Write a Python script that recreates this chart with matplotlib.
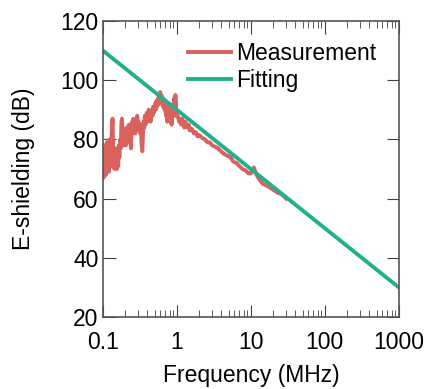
import matplotlib
matplotlib.use('Agg')
from matplotlib import pyplot as plt
from matplotlib.ticker import LogLocator, NullFormatter, FixedLocator

plt.rcParams['font.family'] = ['Liberation Sans', 'DejaVu Sans']

# measured E-shielding vs frequency
meas_freq = [0.100, 0.102, 0.104, 0.106, 0.108, 0.110, 0.113, 0.115, 0.117, 0.120,
             0.122, 0.124, 0.127, 0.129, 0.132, 0.135, 0.137, 0.140, 0.143, 0.146,
             0.149, 0.152, 0.155, 0.158, 0.161, 0.164, 0.167, 0.171, 0.174, 0.178,
             0.181, 0.185, 0.188, 0.192, 0.196, 0.200, 0.204, 0.208, 0.212, 0.216,
             0.221, 0.225, 0.230, 0.234, 0.239, 0.244, 0.248, 0.253, 0.258, 0.264,
             0.269, 0.274, 0.280, 0.285, 0.291, 0.297, 0.303, 0.309, 0.315, 0.321,
             0.328, 0.334, 0.341, 0.348, 0.355, 0.362, 0.369, 0.376, 0.384, 0.392,
             0.399, 0.407, 0.416, 0.424, 0.432, 0.441, 0.450, 0.459, 0.468, 0.477,
             0.487, 0.497, 0.507, 0.517, 0.527, 0.538, 0.548, 0.559, 0.571, 0.582,
             0.594, 0.606, 0.618, 0.630, 0.643, 0.656, 0.669, 0.682, 0.696, 0.710,
             0.724, 0.738, 0.753, 0.768, 0.784, 0.799, 0.815, 0.832, 0.848, 0.865,
             0.883, 0.900, 0.918, 0.937, 0.955, 0.975, 0.994,
             1.03, 1.07, 1.10, 1.14, 1.18, 1.22, 1.26, 1.30, 1.35, 1.40,
             1.45, 1.50, 1.6, 1.7, 1.8, 1.9, 2.0, 2.2, 2.4, 2.6,
             2.8, 3.0, 3.3, 3.6, 4.0, 4.4, 4.8, 5.3, 5.8, 6.4,
             7.0, 7.7, 8.5, 9.3, 10.0, 10.5, 11.0, 11.5, 12.0, 13.0,
             14.5, 16, 18, 20, 23, 26, 30]
meas_db = [72, 67, 78, 70, 76, 68, 79, 71, 75, 69,
           80, 73, 77, 71, 83, 87, 79, 74, 70, 77,
           72, 76, 70, 74, 71, 78, 74, 80, 77, 86,
           87, 81, 78, 83, 79, 81, 78, 84, 80, 82,
           79, 85, 81, 84, 77, 83, 86, 82, 87, 83,
           85, 82, 86, 84, 88, 85, 86, 83, 85, 82,
           84, 78, 76, 82, 86, 84, 88, 85, 87, 89,
           86, 88, 90, 87, 89, 86, 88, 90, 88, 91,
           89, 90, 92, 90, 93, 91, 92, 94, 92, 95,
           96, 93, 95, 92, 94, 91, 93, 90, 92, 88,
           91, 86, 90, 87, 92, 88, 86, 89, 85, 88,
           92, 89, 94, 88, 95, 91, 88,
           88, 86, 87, 85, 87, 86, 84, 86, 85, 84,
           85, 83, 83.5, 82, 82.5, 81, 81.5, 80.5, 80, 79,
           79, 78, 77.5, 77, 75.8, 75, 74.5, 74, 72.5, 72,
           71, 70, 69.5, 68.5, 68.5, 70, 70.5, 69, 68, 66.5,
           65, 64.5, 63.8, 63, 62, 61.5, 60]

# -20 dB/decade fit
fit_freq = [0.1, 1000]
fit_db = [110, 30]

fs = 16.5

fig = plt.figure(figsize=(4.27, 3.89), dpi=100)
ax = fig.add_axes([0.241, 0.185, 0.693, 0.761])

ax.plot(meas_freq, meas_db, color='#d9625f', lw=2.8, label='Measurement')
ax.plot(fit_freq, fit_db, color='#22b08c', lw=2.8, label='Fitting')

ax.set_xscale('log')
ax.set_xlim(0.1, 1000)
ax.set_ylim(20, 120)
ax.set_xticks([0.1, 1, 10, 100, 1000])
ax.set_xticklabels(['0.1', '1', '10', '100', '1000'])
ax.xaxis.set_minor_locator(LogLocator(base=10, subs=range(2, 10)))
ax.xaxis.set_minor_formatter(NullFormatter())
ax.yaxis.set_major_locator(FixedLocator([20, 40, 60, 80, 100, 120]))

ax.tick_params(which='both', direction='in', top=True, right=True,
               labelsize=fs, color='#404040')
ax.tick_params(axis='x', which='major', length=9, pad=10)
ax.tick_params(axis='x', which='minor', length=5)
ax.tick_params(axis='y', which='major', length=9, pad=3)
for s in ax.spines.values():
    s.set_color('#555555')
    s.set_linewidth(1.2)

ax.set_xlabel('Frequency (MHz)', fontsize=fs, labelpad=7)
ax.set_ylabel('E-shielding (dB)', fontsize=fs, labelpad=18)

ax.legend(loc='upper left', bbox_to_anchor=(0.287, 0.93), frameon=False,
          fontsize=fs, handlelength=1.9, handletextpad=0.2, labelspacing=0.2,
          borderaxespad=0, borderpad=0)

fig.savefig('out.png', dpi=100)
